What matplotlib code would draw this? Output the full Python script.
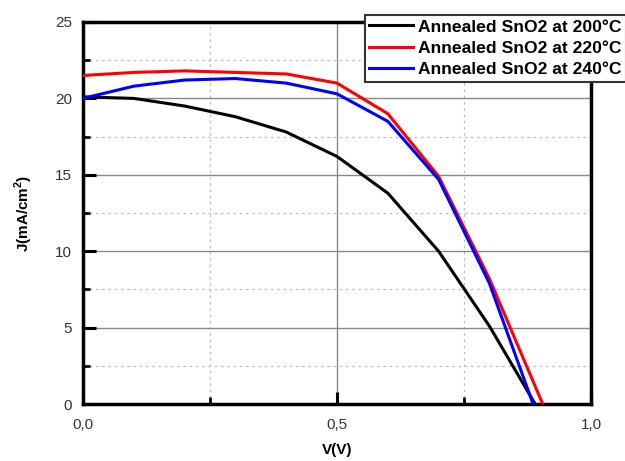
import numpy as np
import matplotlib.pyplot as plt
from matplotlib.ticker import MultipleLocator, FuncFormatter

plt.rcParams['font.family'] = ['Liberation Sans', 'DejaVu Sans']

# J-V curves, voltage in V, current density in mA/cm2
v_200 = [0.0, 0.1, 0.2, 0.3, 0.4, 0.5, 0.6, 0.7, 0.8, 0.89]
j_200 = [20.1, 20.0, 19.5, 18.8, 17.8, 16.2, 13.8, 10.0, 5.1, 0.0]

v_220 = [0.0, 0.1, 0.2, 0.3, 0.4, 0.5, 0.6, 0.7, 0.8, 0.905]
j_220 = [21.5, 21.7, 21.8, 21.7, 21.6, 21.0, 19.0, 14.9, 8.2, 0.0]

v_240 = [0.0, 0.1, 0.2, 0.3, 0.4, 0.5, 0.6, 0.7, 0.8, 0.886]
j_240 = [20.0, 20.8, 21.2, 21.3, 21.0, 20.3, 18.5, 14.7, 7.9, 0.0]

labels = ['Annealed SnO2 at 200°C', 'Annealed SnO2 at 220°C', 'Annealed SnO2 at 240°C']
colors = ['black', 'red', 'blue']

fig = plt.figure(figsize=(6.25, 4.61), dpi=100)
ax = fig.add_axes([0.1328, 0.1236, 0.8128, 0.8287])

for v, j, lab, c in zip([v_200, v_220, v_240], [j_200, j_220, j_240], labels, colors):
    ax.plot(v, j, color=c, lw=2.2, label=lab, zorder=3)

ax.set_xlim(0, 1.0)
ax.set_ylim(0, 25)
ax.xaxis.set_major_locator(MultipleLocator(0.5))
ax.xaxis.set_minor_locator(MultipleLocator(0.25))
ax.yaxis.set_major_locator(MultipleLocator(5))
ax.yaxis.set_minor_locator(MultipleLocator(2.5))
ax.xaxis.set_major_formatter(FuncFormatter(lambda x, p: f'{x:.1f}'.replace('.', ',')))

ax.grid(which='major', color='#888888', lw=1.0, ls='-')
ax.grid(which='minor', color='#bbbbbb', lw=0.9, ls=(0, (2, 3)))
ax.set_axisbelow(True)

for s in ax.spines.values():
    s.set_linewidth(2.5)

ax.tick_params(which='major', direction='in', length=9, width=2.2, labelsize=11,
               colors='black', labelcolor='#333333', pad=8)
ax.tick_params(which='minor', direction='in', length=5, width=2.0)
ax.tick_params(axis='x', pad=10)

ax.set_xlabel('V(V)', fontsize=11, fontweight='bold', labelpad=8)
ax.set_ylabel('J(mA/cm$^\\mathregular{2}$)', fontsize=11, fontweight='bold', labelpad=14)

leg = ax.legend(loc='upper left', bbox_to_anchor=(365 / 625, 1 - 15 / 461),
                bbox_transform=fig.transFigure,
                frameon=True, fancybox=False, framealpha=1, edgecolor='#333333',
                prop={'weight': 'bold', 'size': 12.6}, handlelength=2.5, handletextpad=0.3,
                borderpad=0.25, labelspacing=0.35, borderaxespad=0)
leg.get_frame().set_linewidth(1.5)
leg.set_zorder(5)

fig.savefig('out.png', dpi=100)
